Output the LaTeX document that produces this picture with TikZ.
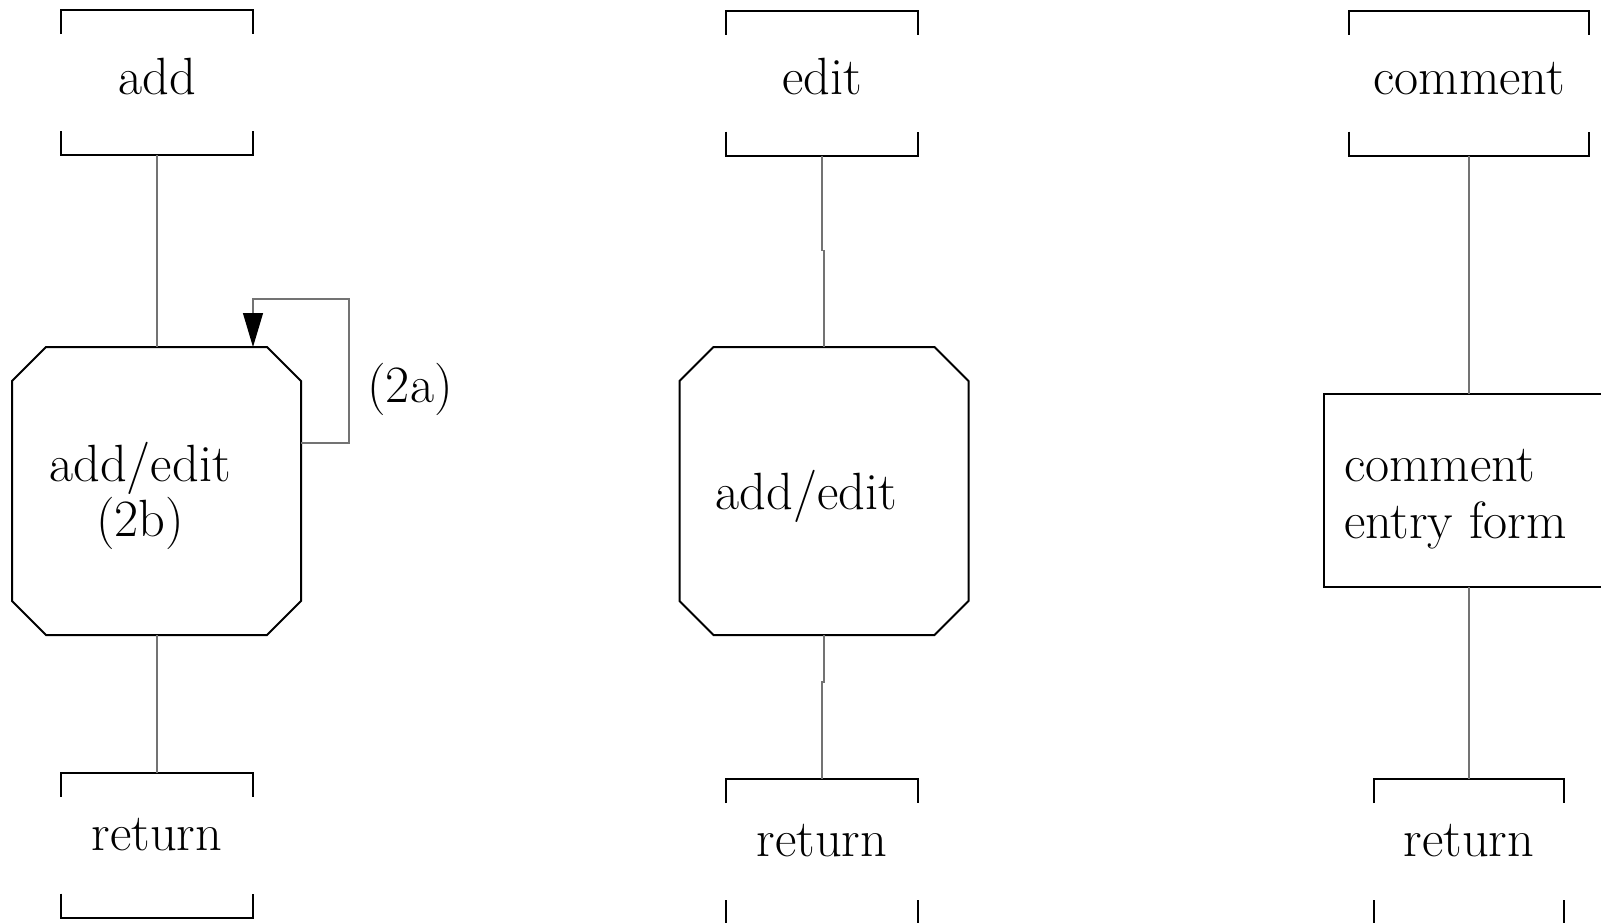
\documentclass[tikz,border=0pt]{standalone}
\usetikzlibrary{arrows.meta,calc}
\newcommand\drawbrackets[1]{%
  \draw[frame] ([yshift=-12pt]#1.north west) -- (#1.north west) -- (#1.north east) -- ([yshift=-12pt]#1.north east);
  \draw[frame] ([yshift=12pt]#1.south west) -- (#1.south west) -- (#1.south east) -- ([yshift=12pt]#1.south east);}
\newcommand\drawocto[1]{%
  \draw[frame] ([xshift=17pt]#1.north west) -- ([xshift=-17pt]#1.north east) -- ([yshift=-17pt]#1.north east)
    -- ([yshift=17pt]#1.south east) -- ([xshift=-17pt]#1.south east) -- ([xshift=17pt]#1.south west)
    -- ([yshift=17pt]#1.south west) -- ([yshift=-17pt]#1.north west) -- cycle;}
\begin{document}
\begin{tikzpicture}[x=0.5pt,y=-0.5pt,
  txt/.style={font=\fontsize{26.2}{30}\selectfont, inner sep=0pt, outer sep=0pt},
  frame/.style={draw=black, line width=1pt},
  conn/.style={draw=black!55, line width=0.6pt},
  entrybr/.style={txt, minimum width=#1, minimum height=72.5pt, text height=17pt, text depth=5.5pt},
  exitbr/.style={txt, minimum width=#1, minimum height=72.5pt, text height=17pt, text depth=12pt},
  octa/.style={inner sep=0pt, outer sep=0pt, minimum width=144.5pt, minimum height=144pt},
  formbox/.style={frame, inner sep=0pt, outer sep=0pt, minimum width=150pt, minimum height=96.5pt},
  looptip/.style={-{Triangle[length=17pt,width=10pt,color=black]}}
]
\path[use as bounding box, clip] (0,0) rectangle (1601,922);
\fill[white] (0,0) rectangle (1601,922);

% entry / exit brackets
\node[entrybr=96pt] (add) at (157,82.5) {add};
\node[entrybr=96pt] (edit) at (822,83) {edit};
\node[entrybr=120pt] (comment) at (1469,83) {comment};
\node[exitbr=96pt] (ret1) at (157,845) {return};
\node[exitbr=96pt] (ret2) at (822,851.5) {return};
\node[exitbr=95pt] (ret3) at (1469,851.5) {return};
\drawbrackets{add}
\drawbrackets{edit}
\drawbrackets{comment}
\drawbrackets{ret1}
\drawbrackets{ret2}
\drawbrackets{ret3}

% octagons and form box
\node[octa] (oct1) at (156.5,491) {};
\node[octa] (oct2) at (824,491) {};
\drawocto{oct1}
\drawocto{oct2}
\node[formbox] (form) at (1474,490.5) {};

% texts
\node[txt, anchor=base] (t1a) at (140,481) {add/edit};
\node[txt, anchor=base] (t1b) at (140,536) {(2b)};
\node[txt, anchor=base] (t2) at (806.5,509) {add/edit};
\node[txt, anchor=base west] (t3a) at (1344,481) {comment};
\node[txt, anchor=base west] (t3b) at (1344,538) {entry form};
\node[txt, anchor=base] (l2a) at (410,402) {(2a)};

% connectors
\coordinate (loopc) at (349,299);
\draw[conn] (add.south) -- (add.south |- oct1.north);
\draw[conn, looptip] ([yshift=24pt]oct1.east) -| (loopc) -| ([xshift=48.25pt]oct1.north);
\draw[conn] (oct1.south -| ret1.north) -- (ret1.north);
\draw[conn] (edit.south) -- ++(0,95) -| (oct2.north);
\draw[conn] (oct2.south) -- ++(0,47) -| (ret2.north);
\draw[conn] (comment.south) -- (form.north -| comment.south);
\draw[conn] (form.south -| ret3.north) -- (ret3.north);
\end{tikzpicture}
\end{document}
